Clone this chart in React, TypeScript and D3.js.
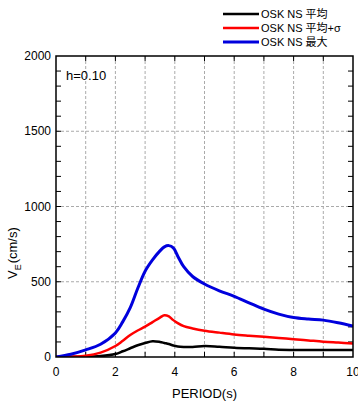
import React from "react";
import * as d3 from "d3";

const periods = [0, 0.5, 1, 1.5, 2, 2.25, 2.5, 2.75, 3, 3.25, 3.5, 3.65, 3.8, 3.95, 4.1, 4.3, 4.6, 5, 5.5, 6, 6.5, 7, 7.5, 8, 8.5, 9, 9.5, 10];
const meanVals = [0, 1, 2, 6, 20, 38, 58, 78, 93, 105, 100, 93, 86, 76, 70, 67, 66, 73, 68, 62, 58, 55, 48, 47, 47, 47, 46, 46];
const sigmaVals = [0, 2, 8, 29, 73, 108, 146, 176, 202, 232, 262, 278, 270, 245, 225, 205, 190, 175, 162, 150, 142, 135, 127, 118, 110, 102, 96, 90];
const maxVals = [0, 18, 47, 85, 160, 235, 328, 455, 570, 645, 705, 732, 740, 725, 670, 600, 535, 485, 440, 403, 360, 318, 285, 262, 252, 245, 228, 206];

const seriesNames = ["OSK NS 平均", "OSK NS 平均+σ", "OSK NS 最大"];
const seriesColors = ["#000000", "#ff0000", "#0000dd"];
const seriesWidths = [2.5, 2.5, 3];
const yTicks = [0, 500, 1000, 1500, 2000];
const xTicks = [0, 2, 4, 6, 8, 10];

export default function App() {
  const W = 358, H = 405;
  const L = 56, R = 353, T = 56, B = 357;
  const x = d3.scaleLinear().domain([0, 10]).range([L, R]);
  const y = d3.scaleLinear().domain([0, 2000]).range([B, T]);
  const line = (vals: number[]) =>
    d3.line<number>().x((_, i) => x(periods[i])).y((d) => y(d)).curve(d3.curveCatmullRom.alpha(0.5))(vals) || "";
  const series = [meanVals, sigmaVals, maxVals];
  const font = "'Liberation Sans', Arial, sans-serif";
  const jfont = "'Liberation Sans', 'Noto Sans CJK JP', sans-serif";
  const xGrid = d3.range(1, 10);
  const yGrid = [500, 1000, 1500];
  const yMinor = d3.range(100, 2000, 100);

  return (
    <svg width={W} height={H} style={{ position: "absolute", left: 0, top: 0, background: "#fff" }}>
      <defs>
        <clipPath id="plot">
          <rect x={L} y={T} width={R - L} height={B - T} />
        </clipPath>
      </defs>
      {xGrid.map((v) => (
        <line key={"xg" + v} x1={x(v)} x2={x(v)} y1={T} y2={B} stroke="#aaa" strokeWidth={1} strokeDasharray="3,2" />
      ))}
      {yGrid.map((v) => (
        <line key={"yg" + v} x1={L} x2={R} y1={y(v)} y2={y(v)} stroke="#aaa" strokeWidth={1} strokeDasharray="3,2" />
      ))}
      {yMinor.map((v) => (
        <g key={"ym" + v}>
          <line x1={L} x2={L + 5} y1={y(v)} y2={y(v)} stroke="#000" />
          <line x1={R - 5} x2={R} y1={y(v)} y2={y(v)} stroke="#000" />
        </g>
      ))}
      {d3.range(1, 10).map((v) => (
        <g key={"xm" + v}>
          <line x1={x(v)} x2={x(v)} y1={B} y2={B - 5} stroke="#000" />
          <line x1={x(v)} x2={x(v)} y1={T} y2={T + 5} stroke="#000" />
        </g>
      ))}
      <g clipPath="url(#plot)">
        {series.map((s, i) => (
          <path key={i} d={line(s)} fill="none" stroke={seriesColors[i]} strokeWidth={seriesWidths[i]} strokeLinejoin="round" />
        ))}
      </g>
      <rect x={L} y={T} width={R - L} height={B - T} fill="none" stroke="#000" strokeWidth={1.5} />
      {yTicks.map((v) => (
        <text key={"yt" + v} x={L - 5} y={y(v)} dy="0.35em" textAnchor="end" fontSize={12} fontFamily={font}>{v}</text>
      ))}
      {xTicks.map((v) => (
        <text key={"xt" + v} x={x(v)} y={B + 19} textAnchor="middle" fontSize={12} fontFamily={font}>{v}</text>
      ))}
      <text x={(L + R) / 2} y={398} textAnchor="middle" fontSize={13} fontFamily={font}>PERIOD(s)</text>
      <text transform="translate(17,279) rotate(-90)" fontSize={13} fontFamily={font}>
        <tspan>V</tspan>
        <tspan dy="4" fontSize={9}>E</tspan>
        <tspan dy="-4" dx="1">(cm/s)</tspan>
      </text>
      <text x={66} y={80} fontSize={13} fontFamily={font}>h=0.10</text>
      {seriesNames.map((n, i) => (
        <g key={"lg" + i}>
          <line x1={223} x2={259} y1={14 + i * 14} y2={14 + i * 14} stroke={seriesColors[i]} strokeWidth={seriesWidths[i]} />
          <text x={261} y={14 + i * 14} dy="0.35em" fontSize={11} fontFamily={jfont}>{n}</text>
        </g>
      ))}
    </svg>
  );
}
